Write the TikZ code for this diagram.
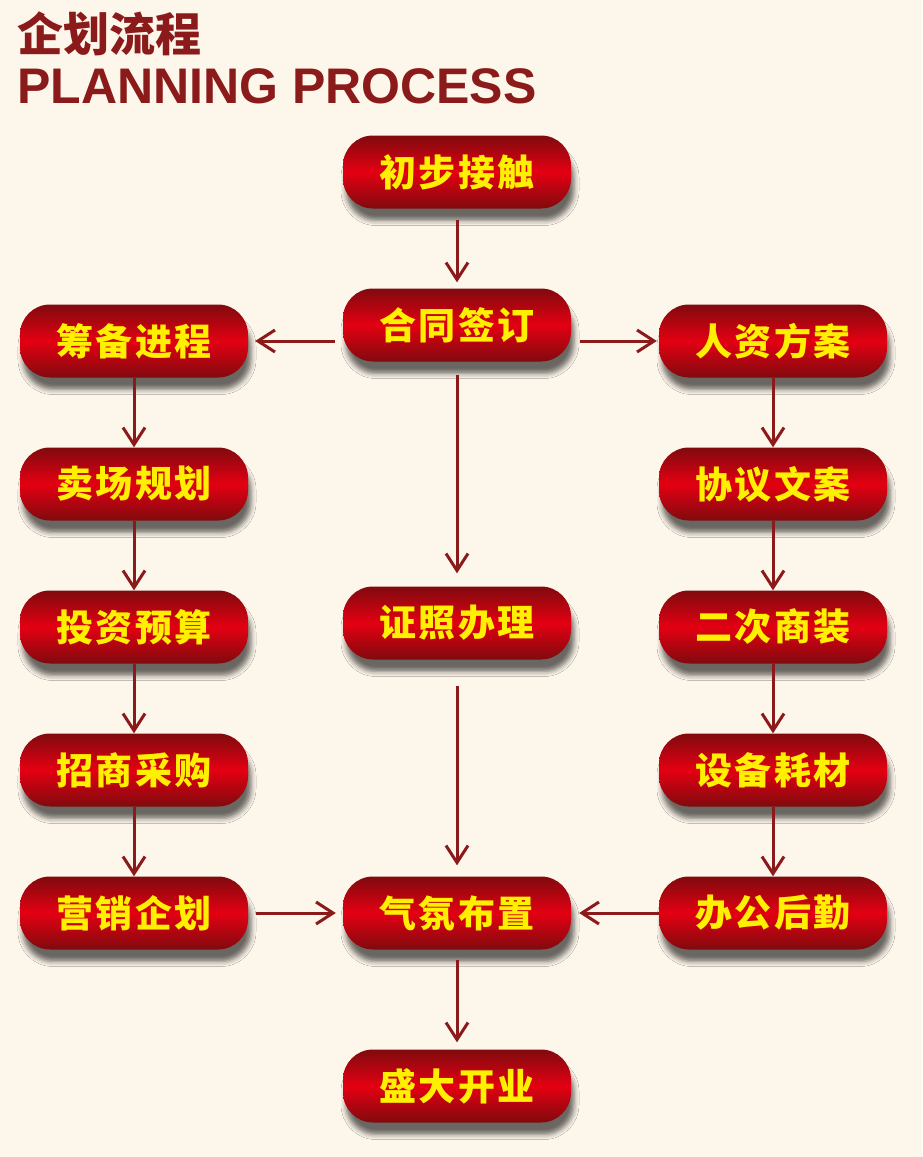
\documentclass[tikz,border=0pt]{standalone}
\usepackage{fontspec}
\setmainfont{Liberation Sans}
\newfontfamily\cjk{Noto Sans CJK SC}
\newfontfamily\cjkbox{Noto Sans CJK SC}[LetterSpace=6]
\usetikzlibrary{arrows.meta,shadows.blur}
\definecolor{bg}{RGB}{253,246,235}
\definecolor{darkred}{RGB}{139,26,26}
\definecolor{boxdark}{RGB}{128,10,14}
\definecolor{boxlight}{RGB}{228,0,18}
\definecolor{txtyellow}{RGB}{255,240,0}
\tikzset{
	box/.style={rounded corners=30pt,minimum width=228pt,minimum height=73pt,inner sep=0pt,
		top color=boxdark,bottom color=boxdark,middle color=boxlight,text=txtyellow,
		font=\cjkbox\bfseries\fontsize{37}{37}\selectfont,
		blur shadow={shadow xshift=3pt,shadow yshift=-12pt,shadow opacity=58,shadow blur radius=5pt}},
	arr/.style={darkred,line width=3pt,-{Straight Barb[length=17pt,width=22pt,line width=3pt]}}
}
\begin{document}
\begin{tikzpicture}[x=1pt,y=-1pt]
		\fill[bg] (0,0) rectangle (922,1157);
		\useasboundingbox (0,0) rectangle (922,1157);
		\node[anchor=west,inner sep=0pt,text=darkred,font=\cjk\bfseries\fontsize{46}{46}\selectfont] (title) at (17,34) {企划流程};
		\node[anchor=west,inner sep=0pt,text=darkred,font=\bfseries\fontsize{50}{50}\selectfont] (subtitle) at (17,86) {PLANNING PROCESS};
		% middle column
		\foreach \n/\t/\y in {chubu/初步接触/172,hetong/合同签订/325,zhengzhao/证照办理/623,qifen/气氛布置/913,shengda/盛大开业/1086}
		\node[box] (\n) at (457,\y) {\t};
		% left and right columns
		\foreach \n/\t/\y in {choubei/筹备进程/341,maichang/卖场规划/484,touzi/投资预算/627,zhaoshang/招商采购/770,yingxiao/营销企划/913}
		\node[box] (\n) at (134,\y) {\t};
		\foreach \n/\t/\y in {renzi/人资方案/341,xieyi/协议文案/484,erci/二次商装/627,shebei/设备耗材/770,bangong/办公后勤/913}
		\node[box] (\n) at (773,\y) {\t};
		\foreach \a/\b in {choubei/maichang,maichang/touzi,touzi/zhaoshang,zhaoshang/yingxiao,renzi/xieyi,xieyi/erci,erci/shebei,shebei/bangong}
		\draw[arr] (\a) -- (\b);
		\draw[arr,shorten <=11pt,shorten >=6pt] (chubu) -- (hetong);
		\draw[arr,shorten <=13pt,shorten >=13pt] (hetong) -- (zhengzhao);
		\draw[arr,shorten <=26pt,shorten >=11pt] (zhengzhao) -- (qifen);
		\draw[arr,shorten <=10pt,shorten >=7pt] (qifen) -- (shengda);
		\draw[arr,shorten <=8pt,shorten >=7pt] (hetong.west |- choubei) -- (choubei);
		\draw[arr,shorten <=9pt,shorten >=2pt] (hetong.east |- renzi) -- (renzi);
		\draw[arr,shorten <=8pt,shorten >=7pt] (yingxiao) -- (qifen);
		\draw[arr,shorten >=8pt] (bangong) -- (qifen);
	\end{tikzpicture}
\end{document}
